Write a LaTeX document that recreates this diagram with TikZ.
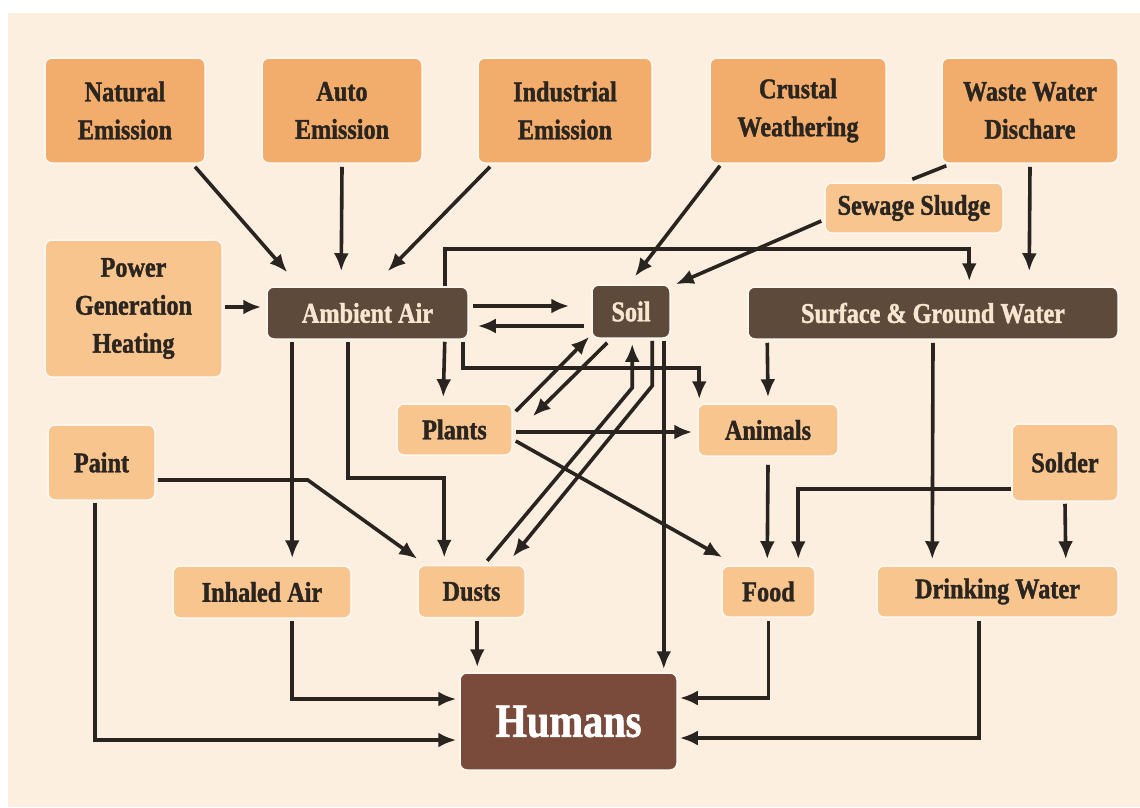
\documentclass[tikz,border=0pt]{standalone}
\usepackage{fontspec}
\newfontfamily\lbl{Liberation Serif}[FakeStretch=0.85,FakeBold=1.4]
\usetikzlibrary{arrows.meta,calc}
\definecolor{bgc}{HTML}{FCEFE0}
\definecolor{orgA}{HTML}{F2AD6C}
\definecolor{orgB}{HTML}{F9C58F}
\definecolor{brn}{HTML}{5E4A3A}
\definecolor{hum}{HTML}{7A4A3A}
\definecolor{arc}{HTML}{2A2421}
\definecolor{txtd}{HTML}{2B2520}
\definecolor{txtl}{HTML}{F7E6D0}
\tikzset{
  box/.style={rounded corners=7pt, inner sep=0pt, align=center,
    font=\lbl\bfseries\fontsize{28.5}{38}\selectfont, text=txtd,
    draw=white!55!bgc, line width=1.5pt},
  srcbox/.style={box, fill=orgA},
  litebox/.style={box, fill=orgB},
  darkbox/.style={box, fill=brn, text=txtl},
  arr/.style={draw=arc, line width=3.6pt, -{Latex[length=18pt,width=15pt]}},
  ln/.style={draw=arc, line width=3.6pt},
}
\begin{document}
\begin{tikzpicture}[x=1pt,y=-1pt]
\useasboundingbox (0,0) rectangle (1140,807);
\fill[white] (0,0) rectangle (1140,807);
\fill[bgc] (8,13) rectangle (1140,807);

% top row
\node[srcbox, minimum width=160pt, minimum height=105pt] (nat) at (125,110.5) {Natural\\Emission};
\node[srcbox, minimum width=160pt, minimum height=105pt] (auto) at (342,110.5) {Auto\\Emission};
\node[srcbox, minimum width=174pt, minimum height=105pt] (ind) at (565,110.5) {Industrial\\Emission};
\node[srcbox, minimum width=176pt, minimum height=105pt] (crust) at (798,110.5) {Crustal\\Weathering};
\node[srcbox, minimum width=176pt, minimum height=105pt] (waste) at (1030,110.5) {Waste Water\\Dischare};

\node[litebox, minimum width=178pt, minimum height=50pt] (sludge) at (914,208) {Sewage Sludge};
\node[litebox, minimum width=177pt, minimum height=137pt] (power) at (133.5,308.5) {Power\\Generation\\Heating};

\node[darkbox, minimum width=201pt, minimum height=52pt] (air) at (367.5,313) {Ambient Air};
\node[darkbox, minimum width=78pt, minimum height=53pt] (soil) at (631,311.5) {Soil};
\node[darkbox, minimum width=370pt, minimum height=52pt] (sgw) at (933,313) {Surface \& Ground Water};

\node[litebox, minimum width=115pt, minimum height=51pt] (plants) at (454.5,429.5) {Plants};
\node[litebox, minimum width=140pt, minimum height=52pt] (animals) at (768,430) {Animals};
\node[litebox, minimum width=107pt, minimum height=75pt] (paint) at (101.5,462.5) {Paint};
\node[litebox, minimum width=106pt, minimum height=77pt] (solder) at (1065,462.5) {Solder};

\node[litebox, minimum width=178pt, minimum height=52pt] (inhaled) at (262,592) {Inhaled Air};
\node[litebox, minimum width=107pt, minimum height=52pt] (dusts) at (471.5,591.5) {Dusts};
\node[litebox, minimum width=93pt, minimum height=51pt] (food) at (768.5,591.5) {Food};
\node[litebox, minimum width=241pt, minimum height=51pt] (dw) at (997.5,591.5) {Drinking Water};

\node[box, fill=hum, text=white, font=\lbl\bfseries\fontsize{47.5}{50}\selectfont,
      minimum width=217pt, minimum height=97pt] (humans) at (568.5,721.5) {Humans};

% connectors
\draw[arr] ($(nat.south)+(70,3)$) -- ($(air.north west)+(21,-14)$);
\draw[arr] ($(auto.south)+(0,3)$) -- ($(air.north west)+(75,-15)$);
\draw[arr] ($(ind.south)+(-75,3)$) -- ($(air.north east)+(-81,-15)$);
\draw[arr] ($(power.east)+(2,-1.5)$) -- ($(air.west)+(-5,-6)$);
\draw[arr] ($(crust.south)+(-78,2)$) -- ($(soil.north)+(4,-8)$);
\draw[ln] ($(waste.south west)+(5,2)$) -- ($(sludge.north west)+(88,-3)$);
\draw[arr] ($(sludge.west)+(-3,13)$) -- ($(soil.north east)+(5,0)$);
\draw[arr] ($(waste.south)+(0,3)$) -- ($(sgw.north west)+(282,-15)$);
\draw[arr] ($(air.north east)+(-24,0)$) |- ($(sgw.north west)+(222,-37)$) -- ($(sgw.north west)+(222,-5)$);

\draw[arr] ($(air.east)+(4,-7)$) -- ($(soil.west)+(-22,-5.5)$);
\draw[arr] ($(soil.west)+(-7,14.5)$) -- ($(air.east)+(9,13)$);
\draw[arr] ($(air.south east)+(-24,2)$) -- ($(plants.north west)+(47,-6)$);
\draw[arr] ($(air.south east)+(-6,2)$) |- ($(animals.north west)+(2,-35)$) -- ($(animals.north west)+(2,-4)$);
\draw[arr] ($(air.south west)+(26,2)$) -- ($(inhaled.north west)+(120,-7)$);
\draw[arr] ($(air.south west)+(82,2)$) |- ($(dusts.north west)+(27,-87)$) -- ($(dusts.north west)+(27,-7)$);

\draw[arr] ($(paint.east)+(2,17.5)$) -- ($(paint.east)+(152,17.5)$) -- ($(dusts.north west)+(0,-6)$);
\draw[arr] ($(paint.south)+(-6.5,2)$) |- ($(humans.west)+(-3,18.5)$);
\draw[arr] ($(inhaled.south west)+(120,2)$) |- ($(humans.west)+(-3,-22.5)$);
\draw[arr] ($(dusts.south west)+(60,3)$) -- ($(humans.north west)+(18,-5)$);

\draw[arr] ($(soil.south west)+(16,4)$) -- ($(plants.north east)+(20,13)$);
\draw[arr] ($(plants.north east)+(3,8)$) -- ($(soil.south west)+(-2,-2)$);
\draw[arr] ($(plants.east)+(3,2.5)$) -- ($(animals.west)+(-5,2)$);
\draw[arr] ($(plants.east)+(3,11.5)$) -- ($(food.north west)+(1,-8)$);
\draw[arr] ($(dusts.north west)+(70,-4)$) -- ($(soil.south west)+(41,49)$) -- ($(soil.south west)+(41,5)$);
\draw[arr] ($(soil.south west)+(61,2)$) -- ($(soil.south west)+(61,47)$) -- ($(dusts.north east)+(-13,-8)$);
\draw[arr] ($(soil.south east)+(-7,2)$) -- ($(humans.north east)+(-14,-3)$);

\draw[arr] ($(sgw.south west)+(20,3)$) -- ($(animals.north)+(0,-6)$);
\draw[arr] ($(sgw.south)+(0,3)$) -- ($(dw.north west)+(56,-6)$);
\draw[arr] ($(animals.south)+(0,8)$) -- ($(food.north west)+(46,-6)$);
\draw[arr] ($(solder.west)+(0,26.5)$) -| ($(food.north west)+(77,-6)$);
\draw[arr] ($(solder.south)+(0,2)$) -- ($(dw.north east)+(-53,-6)$);
\draw[arr] ($(food.south)+(0,3)$) |- ($(humans.east)+(2,-23.5)$);
\draw[arr] ($(dw.south west)+(103,3)$) |- ($(humans.east)+(2,16.5)$);
\end{tikzpicture}
\end{document}
